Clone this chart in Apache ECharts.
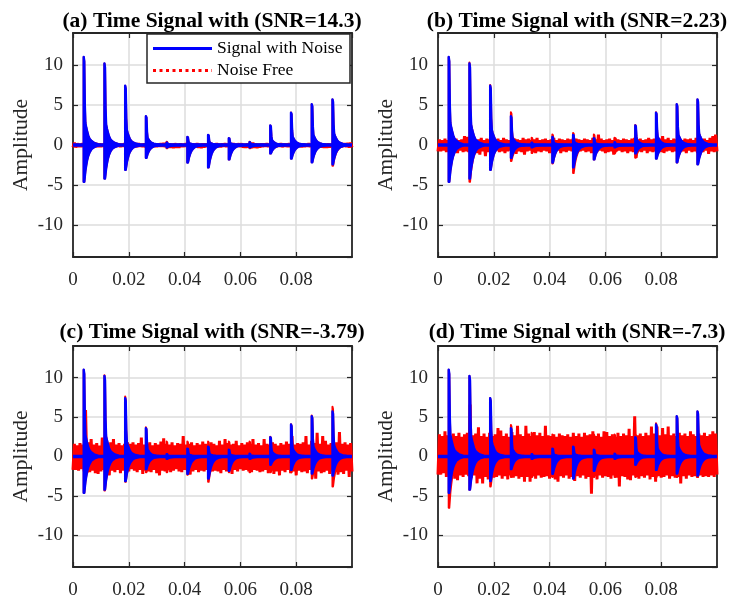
<!DOCTYPE html>
<html>
<head>
<meta charset="utf-8">
<script src="https://cdn.jsdelivr.net/npm/echarts@6/dist/echarts.min.js"></script>
<style>html,body{margin:0;padding:0;background:#fff}#c{width:729px;height:600px}</style>
</head>
<body>
<div id="c"></div>
<script>
// ---- data ----
const titles = ['(a) Time Signal with (SNR=14.3)', '(b) Time Signal with (SNR=2.23)',
                '(c) Time Signal with (SNR=-3.79)', '(d) Time Signal with (SNR=-7.3)'];
const legendNames = ['Signal with Noise', 'Noise Free'];

// impulse times (s) and peak amplitudes of the blue signal
const impTimes = [0.00384, 0.01127, 0.0187, 0.02613, 0.03356, 0.04099, 0.04842, 0.05585, 0.06328, 0.07071, 0.07814, 0.08557, 0.093];
const impPos = [11.0, 10.2, 7.4, 3.6, 0.3, 1.0, 1.25, 0.85, 0.35, 2.45, 4.05, 5.1, 5.7];
const impNeg = [-4.6, -4.2, -3.1, -1.6, -0.3, -2.2, -2.8, -1.8, -0.3, -1.05, -1.7, -2.15, -2.4];

// ringing envelope after each impulse (offset in s, relative amplitude)
const ringDt  = [0, 0.0002, 0.0004, 0.0006, 0.0009, 0.0012, 0.0016, 0.0021, 0.0028, 0.0037, 0.005];
const ringPos = [1, 0.95, 0.45, 0.25, 0.2, 0.16, 0.11, 0.07, 0.045, 0.025, 0.01];
const ringNeg = [1, 1, 0.85, 0.7, 0.55, 0.42, 0.3, 0.2, 0.11, 0.06, 0.02];

// red tips at the impulses, per panel
const redPosA = [11.0, 10.2, 7.4, 3.6, 0.4, 1.0, 1.25, 0.85, 0.4, 2.45, 4.05, 5.1, 5.7];
const redNegA = [-4.6, -4.2, -3.1, -1.6, -0.4, -2.2, -2.8, -1.8, -0.4, -1.05, -1.7, -2.15, -2.6];
const redPosB = [11.0, 10.3, 7.5, 4.1, 0.9, 1.3, 1.5, 1.3, 0.9, 2.5, 4.1, 5.1, 5.7];
const redNegB = [-4.6, -4.6, -3.1, -2.0, -1.0, -2.3, -3.5, -1.8, -1.0, -1.6, -1.7, -2.2, -2.4];
const redPosC = [11.0, 10.3, 7.6, 3.7, 1.9, 1.9, 1.9, 1.9, 1.9, 2.5, 4.1, 5.2, 6.3];
const redNegC = [-4.6, -4.3, -3.2, -2.0, -2.0, -2.3, -3.2, -2.0, -2.0, -2.0, -2.0, -2.8, -3.8];
const redPosD = [11.0, 10.2, 7.4, 4.0, 3.0, 2.8, 2.8, 2.8, 2.8, 2.8, 4.2, 5.1, 5.7];
const redNegD = [-6.5, -4.2, -3.8, -2.6, -2.6, -2.6, -2.8, -2.6, -2.6, -2.6, -2.6, -2.6, -2.6];

// red noise band, one column per millisecond: upper and lower extent
const noiseStep = 0.001;
const aUp = [0.3,0.2,0.15,0.22,0.15,0.18,0.2,0.15,0.2,0.17, 0.15,0.2,0.16,0.22,0.15,0.2,0.17,0.15,0.21,0.16,
             0.2,0.15,0.18,0.2,0.15,0.17,0.22,0.15,0.2,0.16, 0.18,0.2,0.25,0.3,0.2,0.16,0.21,0.15,0.19,0.16,
             0.2,0.15,0.18,0.16,0.22,0.15,0.2,0.17,0.15,0.2, 0.16,0.21,0.15,0.18,0.2,0.15,0.17,0.22,0.15,0.19,
             0.2,0.16,0.18,0.26,0.3,0.2,0.15,0.19,0.16,0.2, 0.15,0.18,0.21,0.15,0.2,0.16,0.18,0.2,0.15,0.17,
             0.2,0.16,0.18,0.15,0.22,0.16,0.2,0.15,0.18,0.2, 0.16,0.19,0.15,0.2,0.17,0.16,0.21,0.2,0.26,0.3];
const aLo = [-0.3,-0.22,-0.25,-0.2,-0.24,-0.21,-0.26,-0.2,-0.23,-0.25, -0.21,-0.24,-0.2,-0.26,-0.22,-0.2,-0.25,-0.21,-0.23,-0.2,
             -0.24,-0.21,-0.25,-0.2,-0.22,-0.26,-0.21,-0.23,-0.2,-0.25, -0.22,-0.2,-0.26,-0.3,-0.35,-0.38,-0.33,-0.36,-0.25,-0.22,
             -0.2,-0.24,-0.21,-0.25,-0.36,-0.38,-0.3,-0.22,-0.2,-0.25, -0.21,-0.23,-0.26,-0.2,-0.24,-0.21,-0.25,-0.22,-0.2,-0.26,
             -0.33,-0.36,-0.3,-0.38,-0.34,-0.37,-0.3,-0.23,-0.2,-0.25, -0.22,-0.2,-0.24,-0.21,-0.26,-0.2,-0.23,-0.25,-0.21,-0.24,
             -0.2,-0.26,-0.22,-0.2,-0.25,-0.21,-0.24,-0.2,-0.3,-0.34, -0.36,-0.32,-0.25,-0.22,-0.26,-0.3,-0.22,-0.25,-0.33,-0.3];
const bUp = [0.7,0.6,0.8,0.6,0.9,0.7,0.8,0.6,0.7,1.1, 1.0,0.7,0.8,0.6,0.7,0.9,0.6,0.8,0.7,0.8,
             0.7,0.8,0.6,0.9,0.7,0.6,0.8,0.8,0.7,0.6, 0.9,0.7,0.8,0.6,0.7,0.9,0.6,0.7,0.8,0.6,
             0.7,0.9,0.6,0.8,0.7,0.6,0.8,0.7,0.9,0.8, 0.7,0.6,0.8,0.7,0.6,0.9,0.7,1.3,0.8,0.6,
             0.7,0.8,0.6,0.9,0.7,0.6,0.8,0.7,0.6,0.8, 0.9,0.7,0.8,0.6,0.7,0.9,0.7,0.8,0.6,0.8,
             1.1,0.7,0.9,0.6,0.8,0.7,0.9,0.6,0.8,0.7, 0.8,0.6,0.9,0.8,0.7,0.8,0.6,0.9,1.1,1.3];
const bLo = [-0.8,-0.7,-0.9,-0.8,-1.0,-0.8,-1.0,-0.7,-0.9,-0.8, -0.9,-0.8,-0.7,-1.0,-1.2,-0.8,-1.4,-0.9,-0.8,-1.0,
             -0.7,-0.9,-0.8,-1.0,-0.8,-0.7,-0.9,-1.1,-0.8,-0.9, -1.2,-0.8,-0.7,-0.9,-1.0,-0.8,-0.9,-0.7,-0.8,-1.0,
             -0.8,-0.9,-0.7,-1.0,-0.8,-0.9,-0.7,-0.8,-1.0,-0.9, -0.8,-0.7,-0.9,-0.8,-1.0,-0.8,-0.9,-0.7,-0.8,-1.0,
             -0.9,-0.8,-1.2,-0.8,-0.7,-0.9,-0.8,-1.0,-0.8,-0.9, -1.6,-0.8,-0.9,-0.7,-1.0,-0.8,-0.9,-0.8,-0.7,-0.9,
             -1.0,-0.8,-0.7,-0.9,-0.8,-1.2,-0.9,-0.8,-1.0,-0.7, -0.9,-0.8,-1.0,-0.8,-0.9,-0.7,-1.1,-0.8,-0.9,-0.8];
const cUp = [1.6,1.4,1.7,1.5,5.9,1.8,2.2,1.5,1.7,1.4, 2.4,1.6,1.5,1.8,2.2,1.5,1.7,1.4,1.6,1.8,
             1.6,1.8,1.5,1.7,2.4,1.5,1.6,1.8,1.4,1.7, 1.5,1.9,2.3,1.6,1.5,1.8,1.4,1.7,1.6,2.6,
             1.5,1.6,1.8,1.4,1.7,1.5,1.9,1.6,1.5,1.8, 1.6,1.4,2.0,1.5,2.2,1.7,1.5,1.6,2.0,1.4,
             1.7,1.5,1.8,1.6,2.2,1.5,1.7,1.4,2.2,1.6, 1.5,1.8,1.6,1.4,1.7,1.5,1.9,1.6,2.6,1.5,
             1.7,1.6,1.8,2.6,1.5,2.0,1.7,3.0,1.6,2.6, 2.0,1.5,1.7,1.6,1.8,3.1,1.6,1.8,1.5,1.7];
const cLo = [-1.7,-1.8,-1.6,-1.9,-2.1,-2.0,-1.8,-2.1,-2.2,-1.9, -1.7,-1.9,-2.4,-1.8,-2.0,-1.7,-2.1,-1.8,-2.0,-1.9,
             -1.6,-1.8,-2.0,-1.7,-2.2,-1.8,-1.9,-2.0,-1.7,-2.1, -2.4,-1.8,-1.9,-1.7,-2.0,-1.8,-1.6,-1.9,-2.0,-1.7,
             -1.8,-2.3,-1.9,-1.7,-2.0,-1.8,-1.9,-1.7,-2.0,-1.9, -1.8,-1.9,-2.1,-1.7,-1.9,-1.8,-2.2,-1.7,-1.9,-1.6,
             -1.8,-1.7,-1.9,-2.0,-1.7,-1.8,-2.0,-1.9,-1.7,-2.1, -1.8,-2.2,-1.9,-2.4,-1.8,-2.0,-1.7,-2.1,-1.9,-2.4,
             -1.8,-2.0,-1.9,-2.1,-1.7,-2.0,-2.8,-1.9,-2.1,-2.0, -1.8,-2.2,-1.9,-2.0,-2.3,-2.0,-2.2,-1.8,-2.6,-1.9];
const dUp = [2.8,2.6,3.2,2.7,2.5,2.9,2.6,3.0,2.5,2.8, 3.0,6.6,2.7,2.9,3.7,2.6,2.9,2.5,3.0,2.6,
             2.8,3.6,3.3,2.6,2.9,2.5,3.1,2.7,3.9,2.8, 2.6,3.9,2.9,2.6,3.1,2.7,3.0,2.6,3.9,2.7,
             2.6,2.8,2.5,2.9,2.7,2.6,2.8,2.5,3.0,2.6, 2.9,2.5,3.0,2.7,2.8,3.2,2.6,2.9,2.5,3.2,
             3.1,2.6,2.8,2.5,3.0,2.6,2.9,2.7,3.5,2.6, 5.1,2.7,2.9,2.6,3.0,2.7,3.8,2.9,3.8,2.7,
             3.6,2.8,3.8,2.7,2.9,2.6,3.0,2.7,2.9,2.6, 3.2,2.8,2.6,2.9,2.7,3.0,2.6,2.8,3.2,2.9];
const dLo = [-2.3,-2.1,-2.6,-2.4,-2.5,-2.8,-3.0,-2.4,-2.6,-2.3, -2.5,-2.7,-2.4,-3.4,-2.8,-3.4,-2.6,-2.9,-2.5,-2.7,
             -2.6,-2.4,-2.8,-2.5,-2.9,-2.4,-2.7,-2.5,-2.8,-2.6, -3.2,-2.6,-3.2,-2.5,-2.8,-2.4,-2.7,-2.6,-2.5,-2.8,
             -2.6,-2.9,-3.2,-2.5,-2.7,-2.4,-2.8,-2.6,-3.1,-2.5, -2.7,-2.4,-2.8,-2.6,-4.7,-2.5,-2.9,-2.4,-2.7,-2.5,
             -2.6,-2.8,-2.4,-2.7,-3.8,-2.5,-2.6,-2.9,-3.0,-2.4, -2.6,-2.8,-2.5,-2.7,-2.4,-2.9,-2.6,-3.2,-2.5,-2.7,
             -2.6,-2.4,-2.8,-2.5,-2.7,-2.6,-3.4,-2.5,-2.8,-2.4, -2.6,-2.5,-2.7,-2.4,-2.6,-2.5,-2.6,-2.4,-2.6,-2.3];

const panels = [
  {up: aUp, lo: aLo, rp: redPosA, rn: redNegA},
  {up: bUp, lo: bLo, rp: redPosB, rn: redNegB},
  {up: cUp, lo: cLo, rp: redPosC, rn: redNegC},
  {up: dUp, lo: dLo, rp: redPosD, rn: redNegD}
];

// ---- layout / style ----
const FONT = '"Liberation Serif", "Times New Roman", serif';
const BLUE = '#0000ff', RED = '#ff0000', AX = '#262626', GRIDC = '#dddddd';
const gridBoxes = [
  {left: 73, top: 33, width: 279, height: 224},
  {left: 438, top: 33, width: 279, height: 224},
  {left: 73, top: 346, width: 279, height: 224},
  {left: 438, top: 346, width: 279, height: 224}
];
const titleCenters = [[212, 10], [577, 10], [212, 321], [577, 321]];

function noiseLine(up, lo) {
  const d = [[0, lo[0]]];
  for (let i = 0; i < up.length; i++) {
    d.push([i * noiseStep + noiseStep / 2, up[i]]);
    d.push([(i + 1) * noiseStep, lo[i]]);
  }
  return d;
}
function impulseData(pos, neg) {
  return impTimes.map((t, i) => [t, pos[i], neg[i]]);
}
function makeRender(color, lw) {
  return function (params, api) {
    const t0 = api.value(0), p = api.value(1), n = api.value(2);
    const pts = [];
    for (let k = 0; k < ringDt.length; k++) pts.push(api.coord([t0 + ringDt[k], p * ringPos[k]]));
    for (let k = ringDt.length - 1; k >= 0; k--) pts.push(api.coord([t0 + ringDt[k], n * ringNeg[k]]));
    return {type: 'polygon', shape: {points: pts}, style: {fill: color, stroke: color, lineWidth: lw, lineJoin: 'round'}};
  };
}

const title = [], grid = [], xAxis = [], yAxis = [], series = [];
gridBoxes.forEach((g, gi) => {
  grid.push(Object.assign({containLabel: false}, g));
  title.push({
    text: titles[gi], left: titleCenters[gi][0], top: titleCenters[gi][1], textAlign: 'center', padding: 0,
    textStyle: {fontFamily: FONT, fontWeight: 'bold', fontSize: 21.5, color: '#000'}
  });
  xAxis.push({
    type: 'value', gridIndex: gi, min: 0, max: 0.1, splitNumber: 5, position: 'bottom',
    axisLine: {show: true, onZero: false, lineStyle: {color: AX, width: 1.8}},
    axisTick: {show: true, inside: true, length: 5, lineStyle: {color: AX, width: 1.2}},
    axisLabel: {show: true, showMaxLabel: false, margin: 14, color: AX, fontFamily: FONT, fontSize: 19},
    splitLine: {show: true, lineStyle: {color: GRIDC, width: 1.5}}
  });
  xAxis.push({
    type: 'value', gridIndex: gi, min: 0, max: 0.1, splitNumber: 5, position: 'top',
    axisLine: {show: true, onZero: false, lineStyle: {color: AX, width: 1.8}},
    axisTick: {show: true, inside: true, length: 5, lineStyle: {color: AX, width: 1.2}},
    axisLabel: {show: false}, splitLine: {show: false}
  });
  yAxis.push({
    type: 'value', gridIndex: gi, min: -14, max: 14, splitNumber: 5, position: 'left',
    name: 'Amplitude', nameLocation: 'middle', nameGap: 41,
    nameTextStyle: {fontFamily: FONT, fontSize: 21.5, color: AX},
    axisLine: {show: true, onZero: false, lineStyle: {color: AX, width: 1.8}},
    axisTick: {show: true, inside: true, length: 5, lineStyle: {color: AX, width: 1.2}},
    axisLabel: {show: true, showMinLabel: false, showMaxLabel: false, margin: 10, color: AX, fontFamily: FONT, fontSize: 19},
    splitLine: {show: true, lineStyle: {color: GRIDC, width: 1.5}}
  });
  yAxis.push({
    type: 'value', gridIndex: gi, min: -14, max: 14, splitNumber: 5, position: 'right',
    axisLine: {show: true, onZero: false, lineStyle: {color: AX, width: 1.8}},
    axisTick: {show: true, inside: true, length: 5, lineStyle: {color: AX, width: 1.2}},
    axisLabel: {show: false}, splitLine: {show: false}
  });
  const P = panels[gi];
  series.push({
    name: legendNames[1], type: 'line', xAxisIndex: 2 * gi, yAxisIndex: 2 * gi, z: 2,
    data: noiseLine(P.up, P.lo), symbol: 'none', showSymbol: false,
    lineStyle: {color: RED, width: 3, type: 'solid', join: 'bevel'}, itemStyle: {color: RED}
  });
  series.push({
    name: 'redTips' + gi, type: 'custom', xAxisIndex: 2 * gi, yAxisIndex: 2 * gi, z: 2,
    data: impulseData(P.rp, P.rn), encode: {x: 0, y: [1, 2]}, renderItem: makeRender(RED, 2)
  });
  series.push({
    name: legendNames[0], type: 'line', xAxisIndex: 2 * gi, yAxisIndex: 2 * gi, z: 3,
    data: [[0, 0], [0.1, 0]], symbol: 'none', showSymbol: false,
    lineStyle: {color: BLUE, width: 3.5, type: 'solid'}, itemStyle: {color: BLUE}
  });
  series.push({
    name: 'blueImp' + gi, type: 'custom', xAxisIndex: 2 * gi, yAxisIndex: 2 * gi, z: 4,
    data: impulseData(impPos, impNeg), encode: {x: 0, y: [1, 2]}, renderItem: makeRender(BLUE, 2.4)
  });
});

// legend box inside panel (a)
const LG = {x: 147, y: 34, w: 203, h: 49, lineX0: 153, lineX1: 212, textX: 217, row1: 48.5, row2: 70.5};
const graphic = [
  {type: 'rect', z: 100, shape: {x: LG.x, y: LG.y, width: LG.w, height: LG.h},
   style: {fill: '#fff', stroke: AX, lineWidth: 1.5}},
  {type: 'line', z: 101, shape: {x1: LG.lineX0, y1: LG.row1, x2: LG.lineX1, y2: LG.row1},
   style: {stroke: BLUE, lineWidth: 3}},
  {type: 'line', z: 101, shape: {x1: LG.lineX0, y1: LG.row2, x2: LG.lineX1, y2: LG.row2},
   style: {stroke: RED, lineWidth: 3, lineDash: [3, 3.5]}},
  {type: 'text', z: 101, x: LG.textX, y: LG.row1,
   style: {text: legendNames[0], fill: '#000', font: '17.5px ' + FONT, textVerticalAlign: 'middle', verticalAlign: 'middle'}},
  {type: 'text', z: 101, x: LG.textX, y: LG.row2,
   style: {text: legendNames[1], fill: '#000', font: '17.5px ' + FONT, textVerticalAlign: 'middle', verticalAlign: 'middle'}}
];

const chart = echarts.init(document.getElementById('c'), null, {renderer: 'canvas'});
chart.setOption({
  animation: false,
  backgroundColor: '#fff',
  title, grid, xAxis, yAxis, series, graphic
});
</script>
</body>
</html>
